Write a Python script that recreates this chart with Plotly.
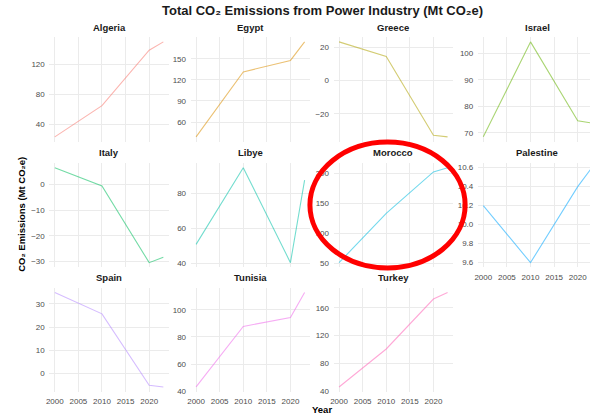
import plotly.graph_objects as go

# ---------------- data ----------------
years = [2000, 2010, 2020, 2023]
countries = ["Algeria", "Egypt", "Greece", "Israel", "Italy", "Libye",
             "Morocco", "Palestine", "Spain", "Tunisia", "Turkey"]
algeria = [22.8, 64.6, 138.8, 150.0]
egypt = [38.9, 131.3, 147.6, 174.0]
greece = [23.4, 14.6, -33.0, -34.0]
israel = [68.5, 104.4, 74.6, 73.7]
italy = [6.6, -0.5, -30.4, -28.3]
libye = [50.9, 94.9, 40.4, 87.8]
morocco = [51.7, 133.7, 202.9, 210.0]
palestine = [10.2, 9.6, 10.4, 10.6]
spain = [35.0, 25.7, -5.3, -6.0]
tunisia = [43.1, 87.8, 94.4, 112.9]
turkey = [46.1, 100.8, 172.8, 182.3]
values = [algeria, egypt, greece, israel, italy, libye,
          morocco, palestine, spain, tunisia, turkey]

x_ticks = [2000, 2005, 2010, 2015, 2020]
y_ticks = [
    [40, 80, 120],
    [60, 90, 120, 150],
    [-20, 0, 20],
    [70, 80, 90, 100],
    [-30, -20, -10, 0],
    [40, 60, 80],
    [50, 100, 150, 200],
    [9.6, 9.8, 10.0, 10.2, 10.4, 10.6],
    [0, 10, 20, 30],
    [40, 60, 80, 100],
    [40, 80, 120, 160],
]
y_ticktext = [None] * 11
y_ticktext[7] = ["9.6", "9.8", "10.0", "10.2", "10.4", "10.6"]

colors = ["#F8766D", "#DB8E00", "#AEA200", "#64B200", "#00BD5C", "#00C1A7",
          "#00BADE", "#00A6FF", "#B385FF", "#EF67EB", "#FF63B6"]

title = "Total CO₂ Emissions from Power Industry (Mt CO₂e)"
y_title = "CO₂ Emissions (Mt CO₂e)"
x_title = "Year"

# ---------------- layout geometry (pixels) ----------------
W, H = 590, 415
col_px = [(46.6, 166.6), (188.6, 308.6), (332.3, 452.3), (477.3, 590.0)]
row_px = [(37.5, 143.0), (164.5, 270.0), (290.5, 395.5)]
bottom_panels = {"Palestine", "Spain", "Tunisia", "Turkey"}

FONT = "Liberation Sans, Arial, Helvetica, sans-serif"
GRID = "#EBEBEB"
TICKFONT = dict(size=8, color="#4D4D4D", family=FONT)

fig = go.Figure()
layout = dict(
    width=W, height=H,
    margin=dict(l=0, r=0, t=0, b=0),
    paper_bgcolor="white", plot_bgcolor="white",
    showlegend=False,
    font=dict(family=FONT, color="#4D4D4D", size=8),
    annotations=[], shapes=[],
)

for i, name in enumerate(countries):
    r, c = divmod(i, 4)
    k = i + 1
    xs = "" if k == 1 else str(k)
    vals = values[i]
    fig.add_trace(go.Scatter(
        x=years, y=vals, mode="lines", xaxis="x" + xs, yaxis="y" + xs,
        line=dict(color=colors[i], width=1.1), opacity=0.55,
        hoverinfo="skip",
    ))
    x0, x1 = col_px[c]
    yt, yb = row_px[r]
    xr_end = 2024.15 if c < 3 else 2022.6
    layout["xaxis" + xs] = dict(
        domain=[x0 / W, x1 / W], anchor="y" + xs,
        range=[1998.85, xr_end], tickvals=x_ticks,
        showticklabels=name in bottom_panels,
        showgrid=True, gridcolor=GRID, gridwidth=1,
        zeroline=False, showline=False,
        ticks="outside", ticklen=2, tickcolor="rgba(0,0,0,0)",
        tickfont=TICKFONT,
    )
    lo, hi = min(vals), max(vals)
    pad = 0.05 * (hi - lo)
    ya = dict(
        domain=[1 - yb / H, 1 - yt / H], anchor="x" + xs,
        range=[lo - pad, hi + pad], tickvals=y_ticks[i],
        showgrid=True, gridcolor=GRID, gridwidth=1,
        zeroline=False, showline=False,
        ticks="outside", ticklen=2, tickcolor="rgba(0,0,0,0)",
        tickfont=TICKFONT,
    )
    if y_ticktext[i] is not None:
        ya["ticktext"] = y_ticktext[i]
    layout["yaxis" + xs] = ya
    # strip title
    layout["annotations"].append(dict(
        text="<b>" + name + "</b>", xref="paper", yref="paper",
        x=(x0 + x1) / 2 / W if c < 3 else (x0 + 597) / 2 / W,
        y=1 - (yt - 2.5) / H, xanchor="center", yanchor="bottom",
        showarrow=False, font=dict(size=9.5, color="#1A1A1A", family=FONT),
    ))

# overall title
layout["annotations"].append(dict(
    text="<b>" + title + "</b>", xref="paper", yref="paper",
    x=321 / W, y=1 - 11 / H, xanchor="center", yanchor="middle",
    showarrow=False, font=dict(size=13, color="#1A1A1A", family=FONT),
))
# y title
layout["annotations"].append(dict(
    text="<b>" + y_title + "</b>", xref="paper", yref="paper",
    x=19 / W, y=1 - 216 / H, xanchor="center", yanchor="middle",
    textangle=-90, showarrow=False,
    font=dict(size=9.5, color="#000000", family=FONT),
))
# x title
layout["annotations"].append(dict(
    text="<b>" + x_title + "</b>", xref="paper", yref="paper",
    x=321 / W, y=1 - 406 / H, xanchor="center", yanchor="top",
    showarrow=False, font=dict(size=9.5, color="#000000", family=FONT),
))

# red highlight ellipse around Morocco panel
layout["shapes"].append(dict(
    type="circle", xref="paper", yref="paper",
    x0=308.5 / W, x1=464.5 / W, y0=1 - 270.5 / H, y1=1 - 143.5 / H,
    line=dict(color="#FF0000", width=5), layer="above",
))

fig.update_layout(**layout)
fig.write_html(
    "out.html",
    config={"displayModeBar": False, "staticPlot": True},
    post_script="document.body.style.margin='0';document.body.style.overflow='hidden';",
)
